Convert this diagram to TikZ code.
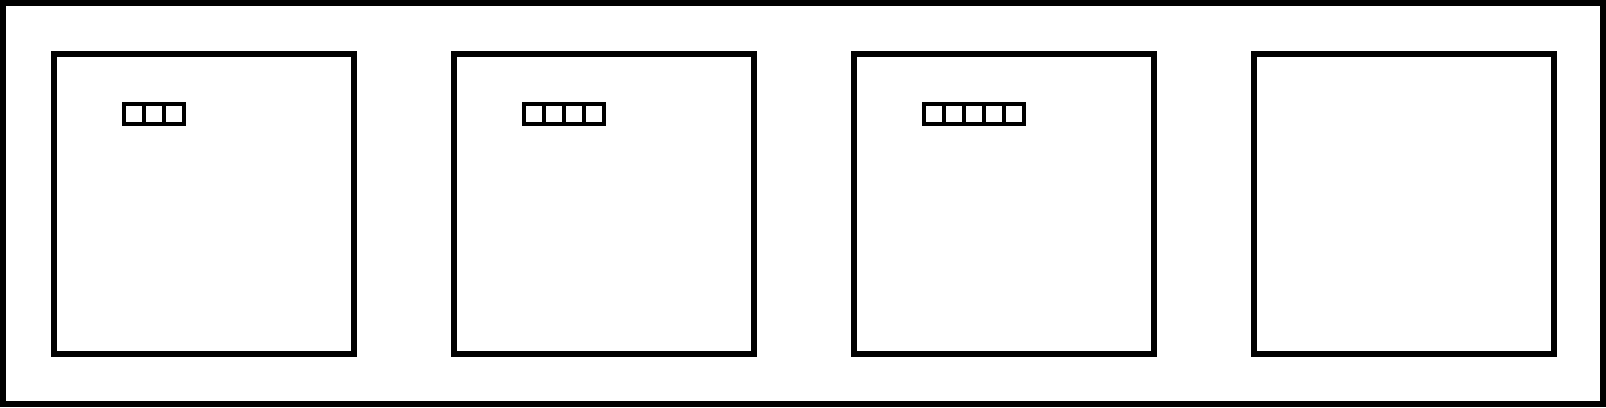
\documentclass[tikz,border=0pt]{standalone}
\usepackage{tikz}
\usetikzlibrary{matrix,positioning}

\begin{document}
\begin{tikzpicture}[x=1pt,y=1pt,
panel/.style={draw,line width=6pt,minimum size=300pt,inner sep=0pt,outer sep=0pt},
slots/.style={matrix,matrix of nodes,inner sep=0pt,outer sep=0pt,
nodes in empty cells,column sep=-3.5pt,anchor=north west,
nodes={draw,line width=3.5pt,minimum size=20pt,inner sep=0pt,outer sep=0pt}},
node distance=100pt]
\useasboundingbox (0,0) rectangle (1606,407);
\draw[line width=6pt] (3,3) rectangle (1603,404);
\node (p1) [panel,anchor=north west] at (54,353) {};
\node (p2) [panel,right=of p1] {};
\node (p3) [panel,right=of p2] {};
\node (p4) [panel,right=of p3] {};
\node (s1) [slots] at ([shift={(68.25pt,-48.25pt)}]p1.north west) {
 & & \\
};
\node (s2) [slots] at ([shift={(68.25pt,-48.25pt)}]p2.north west) {
 & & & \\
};
\node (s3) [slots] at ([shift={(68.25pt,-48.25pt)}]p3.north west) {
 & & & & \\
};
\end{tikzpicture}
\end{document}
